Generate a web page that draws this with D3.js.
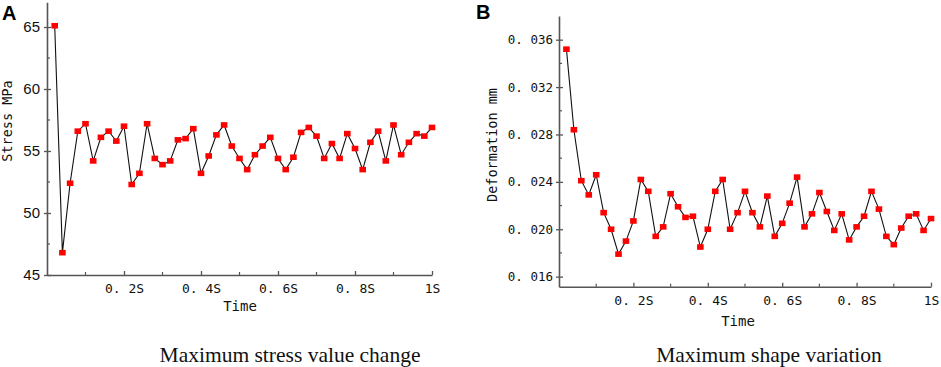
<!DOCTYPE html>
<html lang="en">
<head>
    <meta charset="utf-8">
    <title>Stress and deformation over time</title>
    <script src="https://d3js.org/d3.v7.min.js"></script>
    <style>
        body { margin: 0; background: #fff; }
        .mono { font-family: "DejaVu Sans Mono", monospace; }
    </style>
</head>
<body>
<div id="chart"></div>
<script>
    // time steps (s)
    const times = [0.02, 0.04, 0.06, 0.08, 0.10, 0.12, 0.14, 0.16, 0.18, 0.20,
        0.22, 0.24, 0.26, 0.28, 0.30, 0.32, 0.34, 0.36, 0.38, 0.40,
        0.42, 0.44, 0.46, 0.48, 0.50, 0.52, 0.54, 0.56, 0.58, 0.60,
        0.62, 0.64, 0.66, 0.68, 0.70, 0.72, 0.74, 0.76, 0.78, 0.80,
        0.82, 0.84, 0.86, 0.88, 0.90, 0.92, 0.94, 0.96, 0.98, 1.00];

    // panel A: maximum stress (MPa)
    const stress = [65.1, 46.8, 52.4, 56.6, 57.2, 54.2, 56.1, 56.6, 55.8, 57.0,
        52.3, 53.2, 57.2, 54.4, 53.9, 54.2, 55.9, 56.0, 56.8, 53.2,
        54.6, 56.3, 57.1, 55.4, 54.4, 53.5, 54.7, 55.4, 56.1, 54.4,
        53.5, 54.5, 56.5, 56.9, 56.2, 54.4, 55.6, 54.4, 56.4, 55.2,
        53.5, 55.7, 56.6, 54.2, 57.1, 54.7, 55.7, 56.4, 56.2, 56.9];

    // panel B: maximum deformation (mm)
    const deformation = [0.0352, 0.0284, 0.0241, 0.0229, 0.0246, 0.0214, 0.0200, 0.0179, 0.0190, 0.0207,
        0.0242, 0.0232, 0.0194, 0.0202, 0.0230, 0.0219, 0.0210, 0.0211, 0.0185, 0.0200,
        0.0232, 0.0242, 0.0200, 0.0214, 0.0232, 0.0214, 0.0202, 0.0228, 0.0194, 0.0205,
        0.0222, 0.0244, 0.0202, 0.0213, 0.0231, 0.0215, 0.0199, 0.0213, 0.0191, 0.0202,
        0.0211, 0.0232, 0.0217, 0.0194, 0.0187, 0.0201, 0.0211, 0.0213, 0.0199, 0.0209];

    const xTicks = [0.2, 0.4, 0.6, 0.8, 1.0];
    const xTickLabels = ["0. 2S", "0. 4S", "0. 6S", "0. 8S", "1S"];
    const xMinor = [0.1, 0.3, 0.5, 0.7, 0.9];
    const stressTicks = [45, 50, 55, 60, 65];
    const stressMinor = [47.5, 52.5, 57.5, 62.5];
    const deformTicks = [0.016, 0.020, 0.024, 0.028, 0.032, 0.036];
    const deformTickLabels = ["0. 016", "0. 020", "0. 024", "0. 028", "0. 032", "0. 036"];
    const deformMinor = [0.018, 0.022, 0.026, 0.030, 0.034];

    const svg = d3.select("#chart")
        .append("svg")
        .attr("width", 941)
        .attr("height", 367);

    /**
     * Draws one panel: axes, line, square markers and labels.
     */
    function drawPanel(cfg) {
        const x = d3.scaleLinear().domain([0, 1]).range(cfg.xRange);
        const y = d3.scaleLinear().domain(cfg.yDomain).range(cfg.yRange);
        const g = svg.append("g");

        // y axis
        const yAxis = g.append("g")
            .attr("transform", `translate(${cfg.xRange[0]},0)`)
            .call(d3.axisLeft(y).tickValues(cfg.yTicks).tickSize(0).tickPadding(cfg.yPad)
                .tickFormat((d, i) => cfg.yLabels[i]));
        yAxis.select(".domain").attr("stroke", "#555").attr("stroke-width", 1.6);
        yAxis.selectAll(".tick line").attr("x1", -3).attr("x2", 4).attr("stroke", "#555").attr("stroke-width", 1.3);
        yAxis.selectAll(".tick text")
            .attr("fill", "#111")
            .style("font-family", cfg.yFont)
            .style("font-size", cfg.yFontSize);

        g.append("g")
            .selectAll("line")
            .data(cfg.yMinor)
            .join("line")
            .attr("x1", cfg.xRange[0]).attr("x2", cfg.xRange[0] + 3)
            .attr("y1", d => y(d)).attr("y2", d => y(d))
            .attr("stroke", "#555").attr("stroke-width", 1.2);

        // x axis
        const xAxis = g.append("g")
            .attr("transform", `translate(0,${cfg.yRange[0]})`)
            .call(d3.axisBottom(x).tickValues(xTicks).tickSize(0).tickPadding(9)
                .tickFormat((d, i) => xTickLabels[i]));
        xAxis.select(".domain").attr("stroke", "#555").attr("stroke-width", 1.6);
        xAxis.selectAll(".tick line").attr("y1", 0).attr("y2", -4).attr("stroke", "#555").attr("stroke-width", 1.3);
        xAxis.selectAll(".tick text")
            .attr("fill", "#111")
            .style("font-family", "DejaVu Sans Mono, monospace")
            .style("font-size", "13px");

        g.append("g")
            .selectAll("line")
            .data(xMinor)
            .join("line")
            .attr("x1", d => x(d)).attr("x2", d => x(d))
            .attr("y1", cfg.yRange[0]).attr("y2", cfg.yRange[0] - 3)
            .attr("stroke", "#555").attr("stroke-width", 1.2);

        // line + markers
        const pts = times.map((t, i) => [t, cfg.values[i]]);
        g.append("path")
            .datum(pts)
            .attr("d", d3.line().x(d => x(d[0])).y(d => y(d[1])))
            .attr("fill", "none")
            .attr("stroke", "#111")
            .attr("stroke-width", 1.1);

        g.append("g")
            .selectAll("rect")
            .data(pts)
            .join("rect")
            .attr("x", d => x(d[0]) - 3.3)
            .attr("y", d => y(d[1]) - 2.8)
            .attr("width", 6.6)
            .attr("height", 5.6)
            .attr("fill", "#ff0000");

        // axis titles
        g.append("text")
            .attr("class", "mono")
            .attr("x", cfg.timeX)
            .attr("y", cfg.timeY)
            .attr("text-anchor", "middle")
            .style("font-size", "14px")
            .attr("fill", "#111")
            .text("Time");

        g.append("text")
            .attr("class", "mono")
            .attr("transform", `translate(${cfg.yTitleX},${cfg.yTitleY}) rotate(-90)`)
            .attr("text-anchor", "middle")
            .style("font-size", "13.5px")
            .attr("fill", "#111")
            .text(cfg.yTitle);

        // panel letter
        g.append("text")
            .attr("x", cfg.letterX)
            .attr("y", cfg.letterY)
            .style("font-family", "Liberation Sans, Arial, sans-serif")
            .style("font-weight", "bold")
            .style("font-size", "20px")
            .attr("fill", "#000")
            .text(cfg.letter);

        // caption
        g.append("text")
            .attr("x", cfg.captionX)
            .attr("y", 362)
            .attr("text-anchor", "middle")
            .style("font-family", "Liberation Serif, Times New Roman, serif")
            .style("font-size", "21.5px")
            .attr("fill", "#111")
            .text(cfg.caption);
    }

    drawPanel({
        values: stress,
        xRange: [47, 432],
        yDomain: [45, 67],
        yRange: [275, 2.2],
        yTicks: stressTicks,
        yLabels: stressTicks.map(String),
        yMinor: stressMinor,
        yPad: 7,
        yFont: "Liberation Sans, Arial, sans-serif",
        yFontSize: "15px",
        timeX: 240, timeY: 311,
        yTitle: "Stress MPa",
        yTitleX: 12, yTitleY: 121,
        letter: "A", letterX: 2, letterY: 20,
        captionX: 290,
        caption: "Maximum stress value change"
    });

    drawPanel({
        values: deformation,
        xRange: [559, 931],
        yDomain: [0.01515, 0.0380],
        yRange: [286.7, 16],
        yTicks: deformTicks,
        yLabels: deformTickLabels,
        yMinor: deformMinor,
        yPad: 6,
        yFont: "DejaVu Sans Mono, monospace",
        yFontSize: "12.5px",
        timeX: 738, timeY: 326,
        yTitle: "Deformation mm",
        yTitleX: 497, yTitleY: 145,
        letter: "B", letterX: 476, letterY: 19,
        captionX: 769,
        caption: "Maximum shape variation"
    });
</script>
</body>
</html>
